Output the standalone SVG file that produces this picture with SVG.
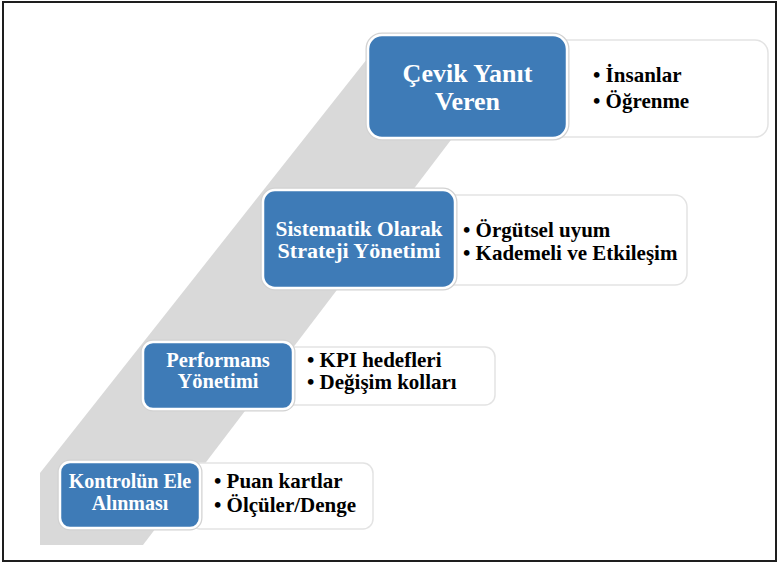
<svg xmlns="http://www.w3.org/2000/svg" width="778" height="563" viewBox="0 0 778 563">
  <style>
    .frame { fill: #ffffff; stroke: #1e1e1e; stroke-width: 2; }
    .band { fill: #d9d9d9; }
    .card { fill: #ffffff; stroke: #e3e3e3; stroke-width: 1.5; }
    .halo { fill: none; stroke: #d2d2d2; stroke-width: 5; }
    .tile { fill: #3e7bb7; stroke: #ffffff; stroke-width: 2.5; }
    .title { font-family: "Liberation Serif", "Times New Roman", serif; font-weight: bold; fill: #ffffff; text-anchor: middle; }
    .item { font-family: "Liberation Serif", "Times New Roman", serif; font-weight: bold; fill: #000000; font-size: 21px; }
  </style>

  <!-- outer frame -->
  <rect class="frame" x="3" y="2" width="773" height="559"/>

  <!-- rising grey band behind the steps -->
  <g id="band">
    <polygon class="band" points="40,545 40,473 382,40 527,40 143,545"/>
  </g>

  <!-- step 4 -->
  <g id="step-cevik">
    <rect class="card" x="548" y="40" width="220" height="97" rx="13"/>
    <rect class="halo" x="368" y="35" width="199" height="103" rx="14"/>
    <rect class="tile" x="368" y="35" width="199" height="103" rx="14"/>
    <text class="title" x="467.5" font-size="26" y="82">Çevik Yanıt</text>
    <text class="title" x="467.5" font-size="26" y="110">Veren</text>
    <text class="item" x="593" y="82">• İnsanlar</text>
    <text class="item" x="593" y="108">• Öğrenme</text>
  </g>

  <!-- step 3 -->
  <g id="step-sistematik">
    <rect class="card" x="440" y="195" width="247" height="90" rx="12"/>
    <rect class="halo" x="263" y="190" width="192" height="98" rx="12"/>
    <rect class="tile" x="263" y="190" width="192" height="98" rx="12"/>
    <text class="title" x="359" font-size="21.5" y="236" textLength="167" lengthAdjust="spacingAndGlyphs">Sistematik Olarak</text>
    <text class="title" x="359" font-size="21.5" y="258" textLength="163" lengthAdjust="spacingAndGlyphs">Strateji Yönetimi</text>
    <text class="item" x="463" y="237">• Örgütsel uyum</text>
    <text class="item" x="463" y="260">• Kademeli ve Etkileşim</text>
  </g>

  <!-- step 2 -->
  <g id="step-performans">
    <rect class="card" x="280" y="347" width="215" height="58" rx="10"/>
    <rect class="halo" x="143" y="342" width="150" height="67" rx="10"/>
    <rect class="tile" x="143" y="342" width="150" height="67" rx="10"/>
    <text class="title" x="218" font-size="20.5" y="367">Performans</text>
    <text class="title" x="218" font-size="20.5" y="388">Yönetimi</text>
    <text class="item" x="307" y="367">• KPI hedefleri</text>
    <text class="item" x="307" y="389">• Değişim kolları</text>
  </g>

  <!-- step 1 -->
  <g id="step-kontrol">
    <rect class="card" x="190" y="463" width="183" height="66" rx="10"/>
    <rect class="halo" x="60" y="462" width="140" height="66" rx="10"/>
    <rect class="tile" x="60" y="462" width="140" height="66" rx="10"/>
    <text class="title" x="130" font-size="20" y="488">Kontrolün Ele</text>
    <text class="title" x="130" font-size="20" y="510">Alınması</text>
    <text class="item" x="214" y="488">• Puan kartlar</text>
    <text class="item" x="214" y="512">• Ölçüler/Denge</text>
  </g>
</svg>
